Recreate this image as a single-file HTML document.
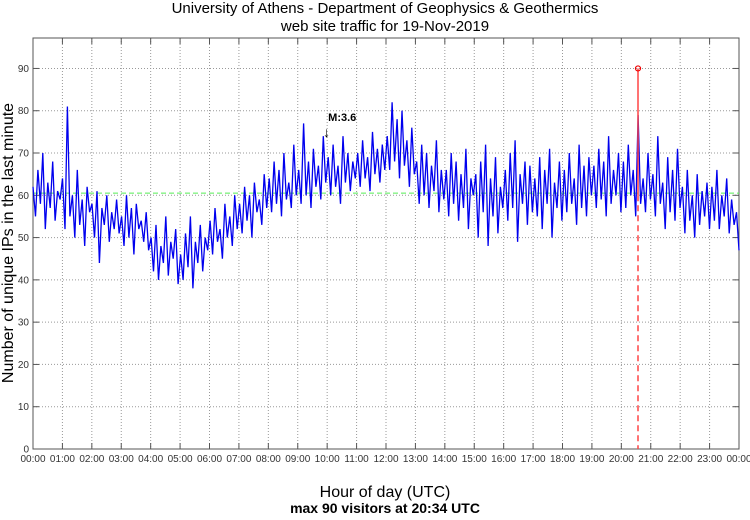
<!DOCTYPE html>
<html><head><meta charset="utf-8"><style>
body{margin:0;background:#fff;width:750px;height:515px;overflow:hidden}
svg text{font-family:"Liberation Sans",sans-serif}
</style></head><body>
<svg id="c" width="750" height="515">
<text x="385" y="13" text-anchor="middle" font-size="15">University of Athens - Department of Geophysics &amp; Geothermics</text>
<text x="385" y="31" text-anchor="middle" font-size="15">web site traffic for 19-Nov-2019</text>
<text x="385" y="497" text-anchor="middle" font-size="16">Hour of day (UTC)</text>
<text x="385" y="513" text-anchor="middle" font-size="14" font-weight="bold">max 90 visitors at 20:34 UTC</text>
<text transform="translate(13,243) rotate(-90)" text-anchor="middle" font-size="16">Number of unique IPs in the last minute</text>
<g id="grid"></g><g id="series"></g><g id="ann"></g>
</svg>
<script>
const hourLabels=["00:00","01:00","02:00","03:00","04:00","05:00","06:00","07:00","08:00","09:00","10:00","11:00","12:00","13:00","14:00","15:00","16:00","17:00","18:00","19:00","20:00","21:00","22:00","23:00","00:00"];
const yTicks=[0,10,20,30,40,50,60,70,80,90];
const visitors=[
62,55,66,58,70,52,63,57,68,54,61,59,
64,52,81,55,60,50,66,53,59,48,62,56,
58,50,61,44,57,53,60,49,56,52,59,51,
55,48,60,50,57,46,58,52,54,49,56,47,
50,42,53,40,48,44,55,41,49,45,52,39,
46,40,51,43,55,38,49,44,53,42,50,47,
54,46,57,49,52,45,58,50,55,48,60,52,
58,51,62,54,60,50,63,56,59,53,65,57,
64,56,68,58,66,55,70,59,63,57,72,60,
66,58,77,60,68,57,71,62,67,59,74,63,
69,60,72,62,67,58,74,63,70,61,68,64,
70,62,73,64,69,61,75,65,71,63,72,66,
74,66,82,68,78,64,80,67,73,62,76,65,
68,58,72,60,70,57,67,61,73,56,66,59,
66,55,70,58,68,54,65,57,71,52,64,60,
65,50,68,56,72,48,64,55,69,51,62,57,
66,54,70,57,73,49,65,58,68,53,67,56,
64,55,69,52,66,58,71,50,63,57,68,54,
66,56,70,58,64,53,72,57,67,55,69,60,
67,57,71,59,68,55,74,58,66,60,70,56,
68,57,72,60,66,55,79,58,64,56,70,59,
65,55,74,58,63,52,69,56,66,54,71,57,
62,51,66,54,60,50,65,53,61,55,63,52,
62,54,66,52,60,55,64,51,59,53,56,47];
const meanValue=[60.5];
const maxValue=[90];
const maxHour=[20+34/60];
const medianLabel=["M:3.6"];
const medianHour=[10];

const X0=33,X1=739,Y0=449,YT=38;
const x=h=>X0+(X1-X0)*h/24;
const y=v=>Y0-(Y0-YT)*v/97.2;
const NS="http://www.w3.org/2000/svg";
function mk(t,p,a){const e=document.createElementNS(NS,t);for(const k in a)e.setAttribute(k,a[k]);p.appendChild(e);return e;}
const grid=document.getElementById('grid'),ser=document.getElementById('series'),ann=document.getElementById('ann');
hourLabels.forEach((l,i)=>{
 const xx=x(i);
 if(i>0&&i<24){const g=mk('line',grid,{x1:xx,x2:xx,y1:YT,y2:Y0,stroke:'#999','stroke-dasharray':'1 2'});
 
 }
 const t=mk('line',grid,{x1:xx,x2:xx,y1:Y0,y2:Y0-6,stroke:'#555'});
 
 
 const t2=mk('line',grid,{x1:xx,x2:xx,y1:YT,y2:YT+6,stroke:'#555'});
 
 
 const tx=mk('text',grid,{x:xx,y:462,'text-anchor':'middle','font-size':'10',fill:'#333'});tx.textContent=l;
 
 
});
yTicks.forEach(v=>{
 const yy=y(v);
 if(v>0){const g=mk('line',grid,{x1:X0,x2:X1,y1:yy,y2:yy,stroke:'#999','stroke-dasharray':'1 2'});
 
 }
 const t=mk('line',grid,{x1:X0,x2:X0+6,y1:yy,y2:yy,stroke:'#555'});
 
 
 const t2=mk('line',grid,{x1:X1-6,x2:X1,y1:yy,y2:yy,stroke:'#555'});
 
 
 const tx=mk('text',grid,{x:29,y:yy+3.5,'text-anchor':'end','font-size':'10',fill:'#333'});tx.textContent=v;
 
 
});
const fr=mk('rect',grid,{x:X0,y:YT,width:X1-X0,height:Y0-YT,fill:'none',stroke:'#555'});


const ml=mk('line',ser,{x1:X0,x2:X1,y1:y(meanValue[0]),y2:y(meanValue[0]),stroke:'#5e5','stroke-dasharray':'5 3'});


const n=visitors.length;
const pts=visitors.map((v,i)=>x(i*24/(n-1)).toFixed(1)+','+y(v).toFixed(1)).join(' ');
const pl=mk('polyline',ser,{points:pts,fill:'none',stroke:'#0000ee','stroke-width':'1.3'});


const mx=x(maxHour[0]);
const r1=mk('line',ann,{x1:mx,x2:mx,y1:y(maxValue[0]),y2:y(60),stroke:'#f44','stroke-width':'1.5'});


const r2=mk('line',ann,{x1:mx,x2:mx,y1:y(60),y2:Y0,stroke:'#f44','stroke-width':'1.5','stroke-dasharray':'6 4'});


const c=mk('circle',ann,{cx:mx,cy:y(maxValue[0]),r:2.5,fill:'none',stroke:'#e00','stroke-width':'1.2'});


const mt=mk('text',ann,{x:x(medianHour[0])+1,y:121,'font-size':'11','font-weight':'bold'});mt.textContent=medianLabel[0];


const ar=mk('text',ann,{x:x(medianHour[0])-4,y:137,'font-size':'14'});ar.textContent='↓';


</script>
</body></html>
